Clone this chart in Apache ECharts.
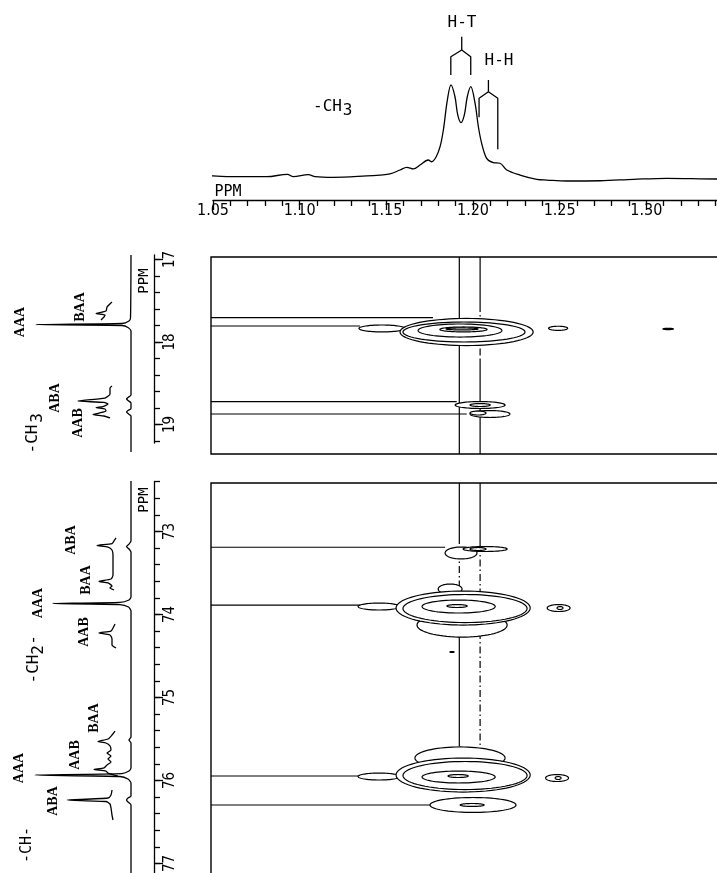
<!DOCTYPE html>
<html><head><meta charset="utf-8">
<script src="https://cdn.jsdelivr.net/npm/echarts@6/dist/echarts.min.js"></script>
<style>html,body{margin:0;padding:0;background:#fff}#c{width:717px;height:873px}</style>
</head><body><div id="c"></div>
<script>
// ---- 1H projection (top) ----
const h1Ppm = [1.046,1.050,1.0615,1.081,1.0929,1.0963,1.105,1.1089,1.1192,1.1387,1.1464,1.1521,1.1579,1.1618,1.1656,1.1694,1.1742,1.1762,1.1787,1.1810,1.1829,1.1852,1.1873,1.1896,1.1912,1.1931,1.1950,1.1967,1.1987,1.2012,1.2031,1.2050,1.2079,1.2117,1.2156,1.2195,1.2271,1.2368,1.2426,1.2541,1.2733,1.2925,1.3118,1.3407,1.35];
const h1Int = [2.3,0.6,0,0,2.0,0,1.7,0,-0.6,0.6,1.4,2.3,5.7,8.0,6.6,10,14.3,12.8,16.9,25.7,40,65.7,78.6,68.5,52.9,46.3,52.9,68.5,77.1,62.9,42.8,28.6,15.7,12.0,11.5,5.7,1.4,-2.3,-2.9,-3.7,-3.5,-2.3,-1.4,-2.0,-2.0];
const h1TickLabels = ['1.05','1.10','1.15','1.20','1.25','1.30'];
// bracket marks (H-T, H-H)
const htBracketPpm = [1.1872,1.1872,1.1935,1.1987,1.1987];
const htBracketInt = [87.1,102.8,108.6,102.8,87.1];
const htStemPpm = [1.1935,1.1935];
const htStemInt = [108.6,120.0];
const hhBracketPpm = [1.2035,1.2035,1.2089,1.2143,1.2143];
const hhBracketInt = [50.9,67.2,72.8,67.2,23.5];
const hhStemPpm = [1.2089,1.2089];
const hhStemInt = [72.8,82.9];

// ---- 13C projections (left) ----
const ch3TickLabels = [17,18,19];
const bbTickLabels = [73,74,75,76,77];
const ch3MainPpm = [16.945,17.709,17.745,17.776,17.788,17.800,17.824,17.867,18.642,18.673,18.691,18.709,18.739,18.806,18.830,18.848,18.867,18.897,19.333];
const ch3MainInt = [1,1.5,3,10,96,10,4,1,1,4,5.5,4,1,1,4,5.5,4,1,1];
const ch3BaaPpm = [17.515,17.576,17.624,17.655,17.673,17.697,17.733];
const ch3BaaInt = [20,25,26,36,27,28,31];
const ch3AbaPpm = [18.533,18.558,18.630,18.679,18.715,18.733,18.752,18.782,18.794,18.812,18.836,18.861,18.879,18.897,18.921];
const ch3AbaInt = [20,22,22,27,54,28,24,29,36,27,26,33,39,28,22];
const bbMainPpm = [72.392,73.114,73.151,73.181,73.211,73.247,73.789,73.825,73.855,73.867,73.880,73.910,73.958,75.476,75.512,75.548,75.849,75.886,75.916,75.934,75.952,75.982,76.030,76.187,76.211,76.235,76.259,76.295,77.175];
const bbMainInt = [1,1,3,5.5,3,1,1,3,12,79,12,3.5,1,1,3,1,1,3,10,97,12,4,1,1,4,5.5,4,1,1];
const bbAbaBaaPpm = [73.078,73.114,73.145,73.169,73.187,73.223,73.283,73.524,73.572,73.602,73.620,73.657,73.681,73.705];
const bbAbaBaaInt = [16,18,20,35,24,20,19,19,21,33,24,20,22,18];
const bbAabPpm = [74.114,74.163,74.199,74.223,74.247,74.295,74.367,74.404];
const bbAabInt = [17,19,21,33,22,20,20,16];
const chBaaAabPpm = [75.404,75.452,75.500,75.530,75.548,75.584,75.633,75.669,75.705,75.741,75.777,75.813,75.849,75.867,75.886,75.910,75.946];
const chBaaAabInt = [17,20,24,34,26,22,21,25,21,24,21,25,28,38,26,24,14];
const chAbaPpm = [76.114,76.175,76.211,76.235,76.253,76.283,76.331,76.416,76.476];
const chAbaInt = [20,21,24,65,26,22,21,20,19];

// ---- 2D contours: [1H centre, 13C centre, 1H half-width, 13C half-width] ----
const ch3Contours = [
  [1.1475,17.836,0.0133,0.042],
  [1.1963,17.879,0.0384,0.164],
  [1.1948,17.879,0.0352,0.121],
  [1.1925,17.861,0.0242,0.079],
  [1.1945,17.848,0.0136,0.030],
  [1.1937,17.842,0.0092,0.012],
  [1.2491,17.834,0.0055,0.025],
  [1.3126,17.842,0.0030,0.008],
  [1.2041,18.764,0.0144,0.042],
  [1.2098,18.873,0.0115,0.042],
  [1.2041,18.764,0.0058,0.018],
  [1.2029,18.861,0.0046,0.024]
];
const bbContours = [
  [1.1931,73.259,0.0092,0.072],
  [1.2070,73.211,0.0127,0.030],
  [1.2029,73.211,0.0046,0.018],
  [1.1937,74.127,0.0260,0.145],
  [1.1868,73.693,0.0069,0.060],
  [1.1458,73.904,0.0121,0.042],
  [1.1943,73.922,0.0387,0.205],
  [1.1954,73.928,0.0358,0.169],
  [1.1917,73.904,0.0211,0.078],
  [1.1908,73.898,0.0058,0.018],
  [1.2494,73.922,0.0066,0.042],
  [1.2502,73.922,0.0017,0.018],
  [1.1879,74.452,0.0012,0.006],
  [1.1925,75.729,0.0260,0.133],
  [1.1458,75.952,0.0121,0.042],
  [1.1943,75.934,0.0387,0.205],
  [1.1954,75.940,0.0358,0.169],
  [1.1917,75.958,0.0211,0.072],
  [1.1914,75.946,0.0058,0.018],
  [1.2485,75.970,0.0066,0.042],
  [1.2491,75.970,0.0017,0.018],
  [1.2000,76.295,0.0248,0.090],
  [1.1995,76.295,0.0069,0.018]
];
// ---- guide lines: [x1, y1, x2, y2, dashed] in ppm ----
const ch3Guides = [
  [1.0488,17.705,1.1769,17.705,0],
  [1.0488,17.806,1.1348,17.806,0],
  [1.0488,18.724,1.1906,18.724,0],
  [1.0488,18.873,1.1964,18.873,0],
  [1.1921,16.970,1.1921,19.358,0],
  [1.2041,16.970,1.2041,17.552,0],
  [1.2041,17.552,1.2041,18.218,1],
  [1.2041,18.218,1.2041,19.358,0]
];
const bbGuides = [
  [1.0488,73.190,1.1839,73.190,0],
  [1.0488,73.886,1.1348,73.886,0],
  [1.0488,75.946,1.1348,75.946,0],
  [1.0488,76.295,1.1752,76.295,0],
  [1.1921,72.416,1.1921,73.066,0],
  [1.1921,73.066,1.1921,73.620,1],
  [1.1921,73.620,1.1921,75.584,0],
  [1.2041,72.416,1.2041,73.163,0],
  [1.2041,73.163,1.2041,76.114,1]
];

const zip = (a, b) => a.map((v, i) => [v, b[i]]);
const LW = 1.3;
const plot = '"DejaVu Sans Condensed","DejaVu Sans"';
const mono = '"DejaVu Sans Mono"';
const serifB = 'bold 14px "Liberation Serif"';

function ellipseItem(params, api) {
  const c = api.coord([api.value(0), api.value(1)]);
  const s = api.size([api.value(2), api.value(3)], [api.value(0), api.value(1)]);
  const pts = [];
  for (let i = 0; i < 72; i++) {
    const a = i / 72 * Math.PI * 2;
    pts.push([c[0] + s[0] * Math.cos(a), c[1] + s[1] * Math.sin(a)]);
  }
  return {type: 'polygon', z2: params.dataIndex, shape: {points: pts},
    style: {fill: '#fff', stroke: '#000', lineWidth: 1.2}};
}
function segItem(params, api) {
  const p1 = api.coord([api.value(0), api.value(1)]);
  const p2 = api.coord([api.value(2), api.value(3)]);
  return {type: 'line', shape: {x1: p1[0], y1: p1[1], x2: p2[0], y2: p2[1]},
    style: {stroke: '#000', lineWidth: 1.2, lineDash: api.value(4) ? [7, 3, 1.5, 3] : null}};
}
function lineSeries(xi, yi, data, smooth) {
  return {type: 'line', xAxisIndex: xi, yAxisIndex: yi, data: data, symbol: 'none',
    smooth: smooth, clip: false, lineStyle: {color: '#000', width: LW}, animation: false, silent: true};
}

const hidden = (gi, extra) => Object.assign({type: 'value', gridIndex: gi, show: false, splitLine: {show: false}}, extra);
const blk = {color: '#000', width: LW};
const G = o => Object.assign({outerBoundsMode: 'none', containLabel: false}, o);

const grids = [
  G({left: 213, top: 25, width: 520, height: 175}),
  G({left: 211, top: 257, width: 522, height: 197, show: true, borderColor: '#000', borderWidth: 1.4}),
  G({left: 211, top: 483, width: 522, height: 400, show: true, borderColor: '#000', borderWidth: 1.4}),
  G({left: 2, top: 250, width: 152, height: 210}),
  G({left: 2, top: 478, width: 152, height: 400}),
  G({left: 2, top: 255, width: 152, height: 188}),
  G({left: 2, top: 259.5, width: 152, height: 181.5}),
  G({left: 2, top: 259.5, width: 152, height: 165}),
  G({left: 2, top: 481.7, width: 152, height: 398.4}),
  G({left: 2, top: 531.5, width: 152, height: 332})
];

const xAxes = [
  {type: 'value', gridIndex: 0, min: 1.05, max: 1.35, interval: 0.05, position: 'bottom',
    axisLine: {onZero: false, lineStyle: blk}, splitLine: {show: false},
    axisTick: {length: 10, lineStyle: blk},
    minorTick: {show: true, splitNumber: 5, length: 6, lineStyle: blk},
    axisLabel: {margin: 3, color: '#000', fontSize: 16, fontFamily: plot,
      formatter: v => { const s = v.toFixed(2); return h1TickLabels.indexOf(s) >= 0 ? s : ''; }}},
  hidden(1, {min: 1.048846, max: 1.35}),
  hidden(2, {min: 1.048846, max: 1.35}),
  hidden(3, {min: -22, max: 130, inverse: true}),
  hidden(4, {min: -22, max: 130, inverse: true}),
  hidden(5, {min: 0, max: 1}), hidden(6, {min: 0, max: 1}), hidden(7, {min: 0, max: 1}),
  hidden(8, {min: 0, max: 1}), hidden(9, {min: 0, max: 1})
];

const leftAxis = (gi, min, max, interval, opts) => Object.assign({
  type: 'value', gridIndex: gi, position: 'right', inverse: true, min: min, max: max, interval: interval,
  splitLine: {show: false},
  axisLine: {show: false, onZero: false, lineStyle: blk},
  axisTick: {show: false, inside: false, lineStyle: blk},
  axisLabel: {show: false}
}, opts);
const leftLabel = list => ({show: true, rotate: 90, margin: 9, color: '#000', fontSize: 15, fontFamily: plot,
  formatter: v => list.indexOf(Math.round(v)) >= 0 && Math.abs(v - Math.round(v)) < 1e-6 ? String(Math.round(v)) : ''});

const yAxes = [
  hidden(0, {min: -20, max: 130}),
  hidden(1, {min: 16.970, max: 19.3576, inverse: true}),
  hidden(2, {min: 72.4157, max: 77.235, inverse: true}),
  hidden(3, {min: 16.8848, max: 19.4303, inverse: true}),
  hidden(4, {min: 72.3554, max: 77.1747, inverse: true}),
  leftAxis(5, 16.945, 19.224, null, {axisLine: {show: true, onZero: false, lineStyle: blk}}),
  leftAxis(6, 17, 19.2, 0.2, {axisTick: {show: true, length: 6, lineStyle: blk}}),
  leftAxis(7, 17, 19, 1, {axisTick: {show: true, length: 9, lineStyle: blk}, axisLabel: leftLabel(ch3TickLabels)}),
  leftAxis(8, 72.4, 77.2, 0.2, {axisLine: {show: true, onZero: false, lineStyle: blk}, axisTick: {show: true, length: 6, lineStyle: blk}}),
  leftAxis(9, 73, 77, 1, {axisTick: {show: true, length: 9, lineStyle: blk}, axisLabel: leftLabel(bbTickLabels)})
];

const series = [
  lineSeries(0, 0, zip(h1Ppm, h1Int), 0.35),
  lineSeries(0, 0, zip(htBracketPpm, htBracketInt), false),
  lineSeries(0, 0, zip(htStemPpm, htStemInt), false),
  lineSeries(0, 0, zip(hhBracketPpm, hhBracketInt), false),
  lineSeries(0, 0, zip(hhStemPpm, hhStemInt), false),
  {type: 'custom', xAxisIndex: 1, yAxisIndex: 1, z: 1, renderItem: segItem, data: ch3Guides, encode: {x: [0, 2], y: [1, 3]}, animation: false, silent: true},
  {type: 'custom', xAxisIndex: 1, yAxisIndex: 1, z: 2, renderItem: ellipseItem, data: ch3Contours, encode: {x: 0, y: 1}, animation: false, silent: true},
  {type: 'custom', xAxisIndex: 2, yAxisIndex: 2, z: 1, renderItem: segItem, data: bbGuides, encode: {x: [0, 2], y: [1, 3]}, animation: false, silent: true},
  {type: 'custom', xAxisIndex: 2, yAxisIndex: 2, z: 2, renderItem: ellipseItem, data: bbContours, encode: {x: 0, y: 1}, animation: false, silent: true},
  lineSeries(3, 3, zip(ch3MainInt, ch3MainPpm), 0.2),
  lineSeries(3, 3, zip(ch3BaaInt, ch3BaaPpm), 0.2),
  lineSeries(3, 3, zip(ch3AbaInt, ch3AbaPpm), 0.2),
  lineSeries(4, 4, zip(bbMainInt, bbMainPpm), 0.2),
  lineSeries(4, 4, zip(bbAbaBaaInt, bbAbaBaaPpm), 0.2),
  lineSeries(4, 4, zip(bbAabInt, bbAabPpm), 0.2),
  lineSeries(4, 4, zip(chBaaAabInt, chBaaAabPpm), 0.2),
  lineSeries(4, 4, zip(chAbaInt, chAbaPpm), 0.2)
];

// text annotations: [text, x, y, rotated, font]
const f16 = '16px ' + mono, f15 = '15px ' + mono, f14 = '14px ' + mono;
const notes = [
  ['H-T', 462, 22.5, 0, f16], ['H-H', 499, 61, 0, f16],
  ['-CH', 327.5, 107, 0, f16], ['3', 347.5, 111, 0, f16], ['PPM', 228, 192, 0, f15],
  ['AAA', 20, 322, 1, serifB], ['BAA', 80, 307, 1, serifB], ['ABA', 55, 398, 1, serifB], ['AAB', 78, 423, 1, serifB],
  ['-CH', 32.5, 439, 1, f16], ['3', 38, 418, 1, f16], ['PPM', 144, 281, 1, f14],
  ['ABA', 71, 540, 1, serifB], ['BAA', 86, 580, 1, serifB], ['AAA', 38, 603, 1, serifB], ['AAB', 84, 632, 1, serifB],
  ['-CH', 34, 669, 1, f16], ['2', 39, 650, 1, f16], ['-', 34, 640, 1, f16],
  ['BAA', 94, 718, 1, serifB], ['AAB', 75, 755, 1, serifB], ['AAA', 19, 768, 1, serifB], ['ABA', 53, 801, 1, serifB],
  ['-CH-', 27, 845, 1, f15], ['PPM', 144, 500, 1, f14]
];
const graphic = notes.map(n => ({type: 'text', x: n[1], y: n[2], rotation: n[3] ? Math.PI / 2 : 0,
  silent: true, style: {text: n[0], font: n[4], fill: '#000', align: 'center', verticalAlign: 'middle'}}));

const chart = echarts.init(document.getElementById('c'), null, {renderer: 'canvas'});
chart.setOption({animation: false, backgroundColor: '#fff', grid: grids, xAxis: xAxes, yAxis: yAxes, series: series, graphic: graphic});
</script></body></html>
